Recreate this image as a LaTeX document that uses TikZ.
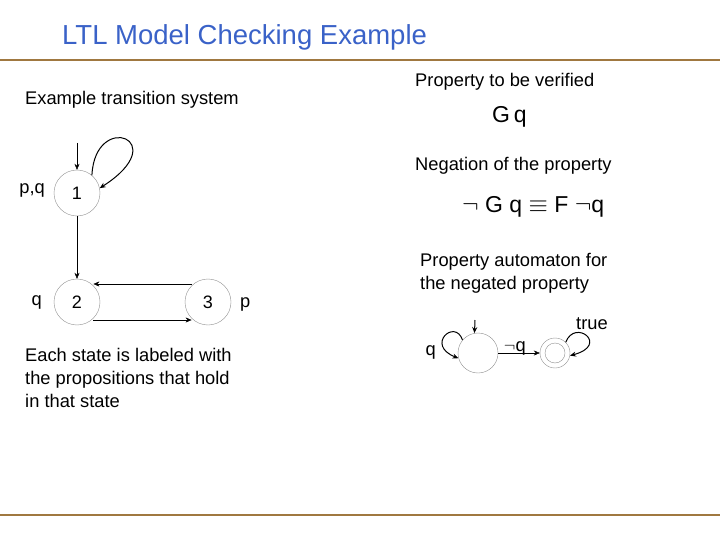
\documentclass[tikz,border=0pt]{standalone}
\usepackage{fontspec}
\setmainfont{Liberation Sans}
\usetikzlibrary{arrows.meta}
\definecolor{titleblue}{HTML}{3A62C8}
\definecolor{rule}{HTML}{A07840}
\definecolor{circ}{HTML}{909090}
\begin{document}
\begin{tikzpicture}[x=1pt,y=-1pt,
  txt/.style={font=\fontsize{18.3}{23}\selectfont, inner sep=0pt},
  st/.style={circle, draw=circ, minimum size=46pt, inner sep=0pt, font=\fontsize{18}{20}\selectfont},
  ast/.style={circle, draw=circ, minimum size=40pt, inner sep=0pt},
  edge/.style={-{Stealth[length=6pt,width=5pt]}, draw=black}]
\useasboundingbox (0,0) rectangle (720,540);
\draw[rule, line width=2pt] (0,60) -- (720,60);
\draw[rule, line width=1.5pt] (0,515) -- (720,515);
\node[anchor=west, text=titleblue, font=\fontsize{27.5}{30}\selectfont, inner sep=0pt] (title) at (62,37) {LTL Model Checking Example};
\node[txt, anchor=west] (ets) at (25,100) {Example transition system};
\node[txt, anchor=west] (ptv) at (415,82) {Property to be verified};
\node[txt, anchor=west, font=\fontsize{23}{26}\selectfont] (gq) at (492,117) {G\,q};
\node[txt, anchor=west, font=\fontsize{23}{26}\selectfont] (ngq) at (462,207) {$\neg$ G q \fontsize{23}{26}\selectfont$\equiv$ F $\neg$q};
\node[txt, anchor=west] (neg) at (415,166) {Negation of the property};
\node[txt, anchor=north west, align=left] (pa) at (420,253) {Property automaton for\\the negated property};
\node[txt, anchor=north west, align=left] (lab) at (25,348) {Each state is labeled with\\the propositions that hold\\in that state};
% transition system
\node[st] (s1) at (77,193) {1};
\node[st] (s2) at (77,302) {2};
\node[st] (s3) at (208,302) {3};
\node[txt, anchor=east] (l1) at (45,190) {p,q};
\node[txt, anchor=east] (l2) at (42,302) {q};
\node[txt, anchor=west] (l3) at (240,304) {p};
\coordinate (init1) at (77,143);
\draw[edge] (init1) -- (s1.north);
\draw[edge, line width=1pt] (s1.50) .. controls (95,110) and (175,140) .. (s1.12);
\draw[edge] (s1) -- (s2);
\draw[edge] (s3.north west |- 0,284) -- (s2.north east |- 0,284);
\draw[edge] (s2.south east |- 0,320) -- (s3.south west |- 0,320);
% automaton
\node[ast] (a) at (478,353) {};
\node[circle, draw=circ, minimum size=30pt, inner sep=0pt] (b) at (555,353) {};
\node[circle, draw=circ, minimum size=20pt, inner sep=0pt] (bi) at (555,353) {};
\coordinate (inita) at (475,320);
\draw[edge, line width=1pt] (inita) -- (a.100);
\draw[edge] (a) -- node[above, txt, pos=0.4, yshift=-2pt] {$\neg$q} (b);
\draw[edge, line width=1pt] (a.140) .. controls (455,318) and (425,345) .. (a.195);
\node[txt, anchor=east] (aq) at (436,352) {q};
\draw[edge, line width=1pt] (b.45) .. controls (575,318) and (610,345) .. (b.-10);
\node[txt, anchor=south] (tr) at (592,330) {true};
\end{tikzpicture}
\end{document}
